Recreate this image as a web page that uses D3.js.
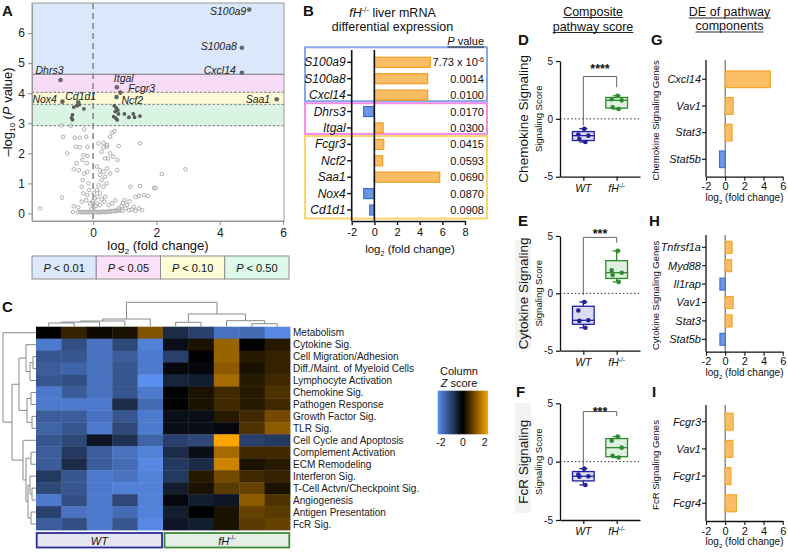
<!DOCTYPE html>
<html><head><meta charset="utf-8">
<script src="https://cdn.jsdelivr.net/npm/d3@7/dist/d3.min.js"></script>
<style>
html,body{margin:0;padding:0;background:#fff;}
svg text{font-family:"Liberation Sans",Arial,Helvetica,sans-serif;}
</style></head>
<body>
<svg id="fig" width="788" height="555" xmlns="http://www.w3.org/2000/svg"></svg>
<script>
// ======================= DATA =======================
// Panel A – volcano plot
const volcanoGenes  = ["S100a9","S100a8","Cxcl14","Dhrs3","Itgal","Fcgr3","Ncf2","Nox4","Cd1d1","Saa1"];
const volcanoGeneFC = [4.93,4.70,4.70,-1.03,0.75,0.86,0.74,-0.97,-0.47,5.80];
const volcanoGeneLP = [6.78,5.51,4.68,4.44,4.20,4.02,3.87,3.72,3.70,3.80];
const volcanoSigPoints = [[-0.61,3.54],[-0.51,3.58],[-0.44,3.62],[-0.29,3.48],[-0.65,3.28],[-0.68,3.18],[-0.65,3.12],
  [0.67,3.58],[0.73,3.51],[0.70,3.39],[0.78,3.44],[0.65,3.22],[0.72,3.17],[0.80,3.31],[0.99,3.31],[1.13,3.20],
  [1.27,3.31],[1.31,3.20],[1.48,3.24],[0.76,3.11]];
const volcanoNsPoints = [[-1.0,2.93],[-0.70,2.92],[-0.95,2.55],[-0.58,2.52],[-0.42,2.52],[-0.22,2.55],[-0.28,2.8],
  [-0.54,2.22],[-0.18,2.22],[0.6,2.69],[0.68,2.74],[0.54,2.55],[0.33,2.35],[0.81,2.24],[1.48,2.33],[0.43,2.22],
  [-0.42,2.2],[-0.31,1.94],[-0.18,1.92],[-0.34,1.78],[-0.52,1.67],[-0.2,1.67],[-0.82,2.0],[-0.61,1.47],[-0.45,1.44],
  [-0.18,1.39],[-0.28,1.33],[-0.33,1.11],[-0.15,1.0],[-0.36,0.89],[-0.12,0.78],[-0.31,0.67],[-0.18,0.61],[-0.36,0.39],
  [-0.22,0.44],[-0.1,0.33],[-0.61,0.24],[-0.63,0.05],[-0.98,0.53],[-1.67,0.17],
  [0.17,2.33],[0.33,2.2],[0.44,2.28],[0.27,2.05],[0.54,2.0],[0.38,1.83],[0.48,1.83],[0.64,1.89],[0.77,1.78],
  [0.12,1.56],[0.22,1.44],[0.33,1.39],[0.44,1.5],[0.54,1.33],[0.76,1.44],
  [0.22,1.28],[0.38,1.22],[0.27,1.11],[0.43,1.0],[0.17,0.94],[0.33,0.89],
  [0.12,0.78],[0.22,0.67],[0.14,0.56],[0.28,0.47],[0.38,0.56],[0.03,0.67],
  [0.12,0.33],[0.22,0.28],[0.35,0.39],[0.49,0.28],[0.6,0.33],[0.7,0.44],
  [-0.47,0.04],[-0.4,0.05],[-0.35,0.03],[-0.3,0.06],[-0.25,0.04],[-0.2,0.05],[-0.15,0.03],[-0.1,0.06],[-0.05,0.04],
  [0.0,0.08],[0.05,0.05],[0.1,0.04],[0.15,0.06],[0.2,0.03],[0.25,0.05],[0.3,0.07],[0.35,0.04],[0.4,0.06],[0.45,0.05],
  [0.5,0.08],[0.55,0.06],[0.6,0.09],[0.65,0.07],[0.7,0.1],[0.75,0.08],[0.8,0.12],[0.85,0.1],
  [0.81,0.17],[0.92,0.09],[1.02,0.17],[1.13,0.11],[1.23,0.13],[1.34,0.09],[1.45,0.17],[1.55,0.11],[1.07,0.28],[1.28,0.22],
  [1.18,0.89],[1.48,0.91],[1.34,0.55],[1.45,0.58],[1.61,0.61],[1.74,0.58],[1.93,0.85],[1.97,0.85],[2.17,1.31],[2.92,1.47],
  [-0.47,0.2],[0.02,0.2],[-0.02,0.35],[0.05,0.5],[-0.05,0.15],[0.08,0.25],[0.0,0.42],[0.95,0.35],[1.0,0.45],[1.15,0.4],[0.9,0.25]];
const pBandCuts   = [4.63,4.03,3.63,2.92];
const pBandLabels = ["0.01","0.05","0.10","0.50"];
const volcanoXTicks = [0,2,4,6];
const volcanoYTicks = [0,1,2,3,4,5,6];

// Panel B – differential expression
const deGenes   = ["S100a9","S100a8","Cxcl14","Dhrs3","Itgal","Fcgr3","Ncf2","Saa1","Nox4","Cd1d1"];
const deLog2FC  = [4.94,4.70,4.70,-0.94,0.77,0.83,0.73,5.77,-0.94,-0.41];
const dePValues = ["7.73 x 10^-6","0.0014","0.0100","0.0170","0.0300","0.0415","0.0593","0.0690","0.0870","0.0908"];
const deGroupSizes = [3,2,5];
const deXTicks = [-2,0,2,4,6,8];

// Panel C – heatmap of pathway z-scores
const pathways = ["Metabolism","Cytokine Sig.","Cell Migration/Adhesion","Diff./Maint. of Myeloid Cells",
  "Lymphocyte Activation","Chemokine Sig.","Pathogen Response","Growth Factor Sig.","TLR Sig.",
  "Cell Cycle and Apoptosis","Complement Activation","ECM Remodeling","Interferon Sig.",
  "T-Cell Actvn/Checkpoint Sig.","Angiogenesis","Antigen Presentation","FcR Sig."];
const heatGroups = ["WT","fH-/-"];
const zScores = [
  [ 0.0, 0.4, 0.1, 0.2, 1.0, -0.6,-0.9,-1.6,-1.5,-1.9],
  [-1.7,-1.1,-1.6,-1.0,-1.8, -0.2, 0.2, 1.2, 0.0, 0.3],
  [-1.2,-1.2,-1.6,-1.3,-1.7, -0.9, 0.0, 1.2, 0.3, 0.4],
  [-1.3,-1.4,-1.6,-1.2,-1.7, -0.1,-0.1, 1.1, 0.2, 0.4],
  [-1.2,-1.1,-1.6,-1.2,-2.0, -0.5,-0.4, 1.3, 0.3, 0.5],
  [-1.7,-1.3,-1.6,-1.2,-1.7,  0.0, 0.2, 0.5, 0.3, 0.6],
  [-1.7,-1.7,-1.7,-0.6,-1.5,  0.0, 0.2, 0.5, 0.3, 0.5],
  [-1.3,-1.3,-1.6,-1.2,-1.7, -0.2,-0.2, 0.3, 0.5, 0.9],
  [-1.4,-1.2,-1.7,-1.0,-1.7, -0.2,-0.2,-0.1, 0.6, 1.1],
  [-1.2,-1.0,-0.3,-0.7,-1.4, -0.9,-1.0, 2.1,-0.9,-0.8],
  [-1.3,-0.8,-1.3,-1.6,-1.8, -0.6,-0.2, 1.3, 0.5, 0.5],
  [-1.3,-0.6,-1.3,-1.5,-1.9, -0.8,-0.6, 1.6, 0.2, 0.3],
  [-0.8,-1.2,-1.7,-1.6,-1.8, -0.8, 0.3, 0.9, 0.5, 0.4],
  [-1.0,-1.2,-1.7,-1.8,-1.8, -0.4, 0.2, 0.7, 0.8, 0.2],
  [-1.7,-1.1,-1.7,-1.0,-1.8, -0.1,-0.4,-0.3, 1.1, 0.6],
  [-0.9,-1.6,-1.7,-1.5,-1.8, -0.4, 0.0, 0.2, 0.8, 0.7],
  [-1.3,-1.1,-1.7,-1.2,-1.9, -0.3,-0.4, 0.2, 0.7, 0.8]];
const zLegendTicks = [-2,0,2];
const rowTree = {h:33,c:[0,{h:24,c:[{h:17,c:[{h:10,c:[1,{h:6,c:[{h:3,c:[2,3]},4]}]},{h:9,c:[{h:5,c:[5,6]},{h:4,c:[7,8]}]}]},
  {h:13,c:[9,{h:10,c:[{h:5,c:[10,11]},{h:8,c:[{h:6,c:[12,{h:4,c:[13,14]}]},{h:5,c:[15,16]}]}]}]}]}]};
const colTree = {h:24.4,c:[{h:7.7,c:[{h:5.7,c:[{h:4.7,c:[{h:3.7,c:[0,1]},2]},3]},4]},
  {h:12.7,c:[{h:4.4,c:[5,6]},{h:6,c:[7,{h:3,c:[8,9]}]}]}]};

// Panels D–F – composite pathway scores
const scoreGroups = ["WT","fH-/-"];
const scoreTitles = ["Chemokine Signaling","Cytokine Signaling","FcR Signaling"];
const chemokineScoreWT = [-0.85,-1.35,-1.45,-1.75,-2.0];
const chemokineScoreFH = [2.0,1.7,1.6,1.0,0.85];
const cytokineScoreWT  = [-0.75,-1.5,-2.35,-2.4,-3.0];
const cytokineScoreFH  = [3.7,2.0,1.8,1.6,1.0];
const fcrScoreWT       = [-0.6,-1.1,-1.25,-1.3,-2.0];
const fcrScoreFH       = [2.15,1.8,1.2,0.5,0.35];
const scoreStars       = ["****","***","***"];
const scoreYTicks      = [-5,0,5];

// Panels G–I – DE of pathway components
const chemokineGenes = ["Cxcl14","Vav1","Stat3","Stat5b"];
const chemokineFC    = [4.7,0.83,0.72,-0.59];
const cytokineGenes  = ["Tnfrsf1a","Myd88","Il1rap","Vav1","Stat3","Stat5b"];
const cytokineFC     = [0.72,0.67,-0.55,0.83,0.72,-0.55];
const fcrGenes       = ["Fcgr3","Vav1","Fcgr1","Fcgr4"];
const fcrFC          = [0.83,0.80,0.60,1.17];
const componentXTicks = [-2,0,2,4,6];

// ======================= DRAWING =======================
const svg = d3.select("#fig");
const fmt = d => (d < 0 ? "-" + Math.abs(d) : String(d));

function txt(g, x, y, s, o = {}) {
  const t = g.append("text").attr("x", x).attr("y", y).text(s)
    .attr("font-size", o.size || 11).attr("text-anchor", o.anchor || "start").attr("fill", o.fill || "#111");
  if (o.italic) t.attr("font-style", "italic");
  if (o.bold) t.attr("font-weight", "bold");
  return t;
}
function fhText(g, x, y, size, anchor, extra) {
  const t = g.append("text").attr("x", x).attr("y", y).attr("font-size", size).attr("text-anchor", anchor).attr("fill", "#111");
  t.append("tspan").attr("font-style", "italic").text("fH");
  t.append("tspan").attr("font-size", size * 0.62).attr("dy", -size * 0.38).text("-/-");
  if (extra) t.append("tspan").attr("dy", size * 0.38).text(extra);
  return t;
}
function logLabel(g, x, y, size) {
  const t = g.append("text").attr("x", x).attr("y", y).attr("font-size", size).attr("text-anchor", "middle").attr("fill", "#111");
  t.append("tspan").text("log");
  t.append("tspan").attr("font-size", size * 0.62).attr("dy", size * 0.3).text("2");
  t.append("tspan").attr("dy", -size * 0.3).text(" (fold change)");
  return t;
}
function underline(t) {
  const b = t.node().getBBox();
  d3.select(t.node().parentNode).append("line").attr("x1", b.x).attr("x2", b.x + b.width)
    .attr("y1", +t.attr("y") + 2).attr("y2", +t.attr("y") + 2).attr("stroke", "#111").attr("stroke-width", 0.9);
}
function letter(x, y, s) { txt(svg, x, y, s, {size: 15, bold: true}); }

// ---------- Panel A ----------
{
  const g = svg.append("g");
  const x = d3.scaleLinear().domain([-1.93, 6.03]).range([32, 284]);
  const y = d3.scaleLinear().domain([-0.25, 7.0]).range([221, 3]);
  const bandCols = ["#dbe7fa", "#f8dbf6", "#fdfad5", "#d9f4e2"];
  pBandCuts.forEach((c, i) => {
    const top = i === 0 ? y.domain()[1] : pBandCuts[i - 1];
    g.append("rect").attr("x", x.range()[0]).attr("width", x.range()[1] - x.range()[0])
      .attr("y", y(top)).attr("height", y(c) - y(top)).attr("fill", bandCols[i]);
  });
  pBandCuts.forEach((c, i) => {
    g.append("line").attr("x1", x.range()[0]).attr("x2", x.range()[1]).attr("y1", y(c)).attr("y2", y(c))
      .attr("stroke", "#777").attr("stroke-width", 1).attr("stroke-dasharray", i === 0 ? null : "2.5,1.8");
  });
  g.append("line").attr("x1", x(0)).attr("x2", x(0)).attr("y1", y.range()[1]).attr("y2", y.range()[0])
    .attr("stroke", "#8a8a8a").attr("stroke-width", 1.6).attr("stroke-dasharray", "6,4");
  g.selectAll(".ns").data(volcanoNsPoints).enter().append("circle")
    .attr("cx", d => x(d[0])).attr("cy", d => y(d[1])).attr("r", 1.8)
    .attr("fill", "#fff").attr("fill-opacity", 0.4).attr("stroke", "#9a9a9a").attr("stroke-width", 0.8);
  g.selectAll(".sig").data(volcanoSigPoints).enter().append("circle")
    .attr("cx", d => x(d[0])).attr("cy", d => y(d[1])).attr("r", 1.9).attr("fill", "#595959");
  const lab = {S100a9:["end",-3,5],S100a8:["end",-5,2],Cxcl14:["end",-6,1.5],Dhrs3:["end",3,-6],Itgal:["start",-3,-5.3],
    Fcgr3:["start",8,-0.7],Ncf2:["start",5,6.8],Nox4:["end",-5.5,1.3],Cd1d1:["start",-13,-2.3],Saa1:["end",-6.5,4]};
  volcanoGenes.forEach((gname, i) => {
    const cx = x(volcanoGeneFC[i]), cy = y(volcanoGeneLP[i]);
    g.append("circle").attr("cx", cx).attr("cy", cy).attr("r", 2.3).attr("fill", "#666");
    const L = lab[gname];
    txt(g, cx + L[1], cy + L[2], gname, {size: 10.5, italic: true, anchor: L[0], fill: "#222"});
  });
  g.append("rect").attr("x", 32).attr("y", 3).attr("width", 252).attr("height", 218)
    .attr("fill", "none").attr("stroke", "#9a9a9a").attr("stroke-width", 1);
  const ya = g.append("g").attr("transform", "translate(32,0)")
    .call(d3.axisLeft(y).tickValues(volcanoYTicks).tickSize(4).tickSizeOuter(0).tickFormat(fmt));
  const xa = g.append("g").attr("transform", "translate(0,221)")
    .call(d3.axisBottom(x).tickValues(volcanoXTicks).tickSize(4).tickSizeOuter(0).tickFormat(fmt));
  [ya, xa].forEach(a => { a.select(".domain").attr("stroke", "#9a9a9a");
    a.selectAll(".tick line").attr("stroke", "#888");
    a.selectAll("text").attr("font-size", 12).attr("fill", "#222"); });
  logLabel(g, 158, 250, 13);
  const yl = g.append("text").attr("transform", "translate(12,112) rotate(-90)").attr("font-size", 13)
    .attr("text-anchor", "middle").attr("fill", "#111");
  yl.append("tspan").text("\u2013log");
  yl.append("tspan").attr("font-size", 8).attr("dy", 3).text("10");
  yl.append("tspan").attr("dy", -3).text(" (");
  yl.append("tspan").attr("font-style", "italic").text("P");
  yl.append("tspan").text(" value)");
  // legend row
  const lw = (289 - 32) / pBandLabels.length;
  const legCols = ["#dde9fb", "#fde1fb", "#fefdd8", "#ddf9ea"];
  pBandLabels.forEach((p, i) => {
    g.append("rect").attr("x", 32 + i * lw).attr("y", 256).attr("width", lw).attr("height", 23)
      .attr("fill", legCols[i]).attr("stroke", "#8c8c8c").attr("stroke-width", 1);
    const t = g.append("text").attr("x", 32 + i * lw + lw / 2).attr("y", 271.5).attr("font-size", 11)
      .attr("text-anchor", "middle").attr("fill", "#111");
    t.append("tspan").attr("font-style", "italic").text("P");
    t.append("tspan").text(" < " + p);
  });
  letter(2, 15.5, "A");
}

// ---------- Panel B ----------
{
  const g = svg.append("g");
  const x = d3.scaleLinear().domain([-2, 8]).range([351.7, 465]);
  const y = d3.scalePoint().domain(deGenes).range([62.3, 210]);
  const top = 50, bot = 221;
  const boxCols = ["#86a9e6", "#f48bef", "#fcd46c"];
  let start = 0;
  deGroupSizes.forEach((n, i) => {
    const y0 = i === 0 ? y(deGenes[start]) - 15 : y(deGenes[start]) - 8.3;
    const y1 = y(deGenes[start + n - 1]) + (i === deGroupSizes.length - 1 ? 8.5 : 6);
    g.append("rect").attr("x", 305).attr("y", y0).attr("width", 182).attr("height", y1 - y0)
      .attr("fill", "none").attr("stroke", boxCols[i]).attr("stroke-width", 2);
    start += n;
  });
  g.selectAll(".bar").data(deGenes).enter().append("rect")
    .attr("x", (d, i) => x(Math.min(0, deLog2FC[i]))).attr("width", (d, i) => Math.abs(x(deLog2FC[i]) - x(0)))
    .attr("y", d => y(d) - 5).attr("height", 10)
    .attr("fill", (d, i) => deLog2FC[i] >= 0 ? "#f9bd66" : "#6b96e4")
    .attr("stroke", (d, i) => deLog2FC[i] >= 0 ? "#f39c1e" : "#3a6bd5").attr("stroke-width", 1.2);
  [x(-2), x(0)].forEach(xx => g.append("line").attr("x1", xx).attr("x2", xx).attr("y1", top).attr("y2", bot)
    .attr("stroke", "#111").attr("stroke-width", 1.6));
  deGenes.forEach((d, i) => {
    g.append("line").attr("x1", x(-2) - 4.5).attr("x2", x(-2)).attr("y1", y(d)).attr("y2", y(d)).attr("stroke", "#111").attr("stroke-width", 1.4);
    txt(g, x(-2) - 6, y(d) + 4, d, {size: 12, italic: true, anchor: "end"});
    const pv = dePValues[i];
    if (pv.includes("^")) {
      const [base, ex] = pv.split("^");
      const t = g.append("text").attr("x", 484).attr("y", y(d) + 4).attr("font-size", 11).attr("text-anchor", "end").attr("fill", "#111");
      t.append("tspan").text(base);
      t.append("tspan").attr("font-size", 7).attr("dy", -4).text(ex);
    } else txt(g, 484, y(d) + 4, pv, {size: 11, anchor: "end"});
  });
  const xa = g.append("g").attr("transform", `translate(0,${bot})`)
    .call(d3.axisBottom(x).tickValues(deXTicks).tickSize(4).tickSizeOuter(0).tickFormat(fmt));
  xa.select(".domain").attr("stroke", "#111").attr("stroke-width", 1.6);
  xa.selectAll(".tick line").attr("stroke", "#111").attr("stroke-width", 1.4);
  xa.selectAll("text").attr("font-size", 11).attr("fill", "#111");
  logLabel(g, 410, 253, 11.5);
  const ph = g.append("text").attr("x", 484).attr("y", 45).attr("font-size", 11).attr("text-anchor", "end").attr("fill", "#111");
  ph.append("tspan").attr("font-style", "italic").text("P");
  ph.append("tspan").text(" value");
  underline(ph);
  fhText(g, 392.5, 16.5, 12.5, "middle", " liver mRNA");
  txt(g, 392.5, 30.5, "differential expression", {size: 12.5, anchor: "middle"});
  letter(303, 15.5, "B");
}

// ---------- Panel C ----------
{
  const g = svg.append("g");
  const cols = d3.range(zScores[0].length);
  const x = d3.scaleBand().domain(cols).range([36, 290]);
  const y = d3.scaleBand().domain(d3.range(pathways.length)).range([326.7, 530]);
  const col = d3.scaleLinear().domain([-2, 0, 2]).range(["#5b8ff0", "#000000", "#ffa500"]).clamp(true);
  zScores.forEach((row, r) => row.forEach((v, c) => {
    g.append("rect").attr("x", x(c)).attr("y", y(r)).attr("width", x.bandwidth() + 0.4).attr("height", y.bandwidth() + 0.4)
      .attr("fill", col(v));
  }));
  pathways.forEach((p, r) => txt(g, 293, y(r) + y.bandwidth() / 2 + 3.6, p, {size: 10, fill: "#1a1a1a"}));
  const dg = g.append("g").attr("stroke", "#8a8a8a").attr("stroke-width", 1).attr("fill", "none");
  function drawRow(n) {
    if (typeof n === "number") return {p: y(n) + y.bandwidth() / 2, q: 36};
    const ch = n.c.map(drawRow), q = 36 - n.h;
    dg.append("line").attr("x1", q).attr("x2", q).attr("y1", ch[0].p).attr("y2", ch[ch.length - 1].p);
    ch.forEach(c => dg.append("line").attr("x1", q).attr("x2", c.q).attr("y1", c.p).attr("y2", c.p));
    return {p: (ch[0].p + ch[ch.length - 1].p) / 2, q};
  }
  drawRow(rowTree);
  function drawCol(n) {
    if (typeof n === "number") return {p: x(n) + x.bandwidth() / 2, q: 326.7};
    const ch = n.c.map(drawCol), q = 326.7 - n.h;
    dg.append("line").attr("y1", q).attr("y2", q).attr("x1", ch[0].p).attr("x2", ch[ch.length - 1].p);
    ch.forEach(c => dg.append("line").attr("y1", q).attr("y2", c.q).attr("x1", c.p).attr("x2", c.p));
    return {p: (ch[0].p + ch[ch.length - 1].p) / 2, q};
  }
  drawCol(colTree);
  const half = cols.length / 2;
  const gb = [[x(0) + 0.7, x(half - 1) + x.bandwidth() - 1, "#2b2b9a", "#e5e5f2"],
              [x(half) + 1.5, x(cols.length - 1) + x.bandwidth() - 0.7, "#3a8a3a", "#e6efe6"]];
  gb.forEach((b, i) => {
    g.append("rect").attr("x", b[0]).attr("y", 533).attr("width", b[1] - b[0]).attr("height", 14.5)
      .attr("fill", b[3]).attr("stroke", b[2]).attr("stroke-width", 1.8);
    if (i === 0) txt(g, (b[0] + b[1]) / 2, 544.5, heatGroups[0], {size: 11, italic: true, anchor: "middle"});
    else fhText(g, (b[0] + b[1]) / 2, 544.5, 11, "middle");
  });
  const lx = d3.scaleLinear().domain([-2.3, 2.3]).range([437.7, 488]);
  const defs = svg.append("defs");
  const grad = defs.append("linearGradient").attr("id", "zgrad");
  [[0, col(-2.3)], [0.5, col(0)], [1, col(2.3)]].forEach(s => grad.append("stop").attr("offset", s[0]).attr("stop-color", s[1]));
  g.append("rect").attr("x", lx.range()[0]).attr("y", 390.7).attr("width", lx.range()[1] - lx.range()[0]).attr("height", 43.6)
    .attr("fill", "url(#zgrad)");
  zLegendTicks.forEach(v => txt(g, lx(v), 446, fmt(v), {size: 10.5, anchor: "middle"}));
  txt(g, 459, 374.5, "Column", {size: 11, anchor: "middle"});
  const zs = g.append("text").attr("x", 459).attr("y", 386.5).attr("font-size", 11).attr("text-anchor", "middle").attr("fill", "#111");
  zs.append("tspan").attr("font-style", "italic").text("Z");
  zs.append("tspan").text(" score");
  letter(2, 312, "C");
}

// ---------- Panels D–F ----------
function prismQ(s, p) {
  const pos = (s.length + 1) * p - 1, lo = Math.floor(pos), hi = Math.ceil(pos);
  return s[lo] + (s[hi] - s[lo]) * (pos - lo);
}
function drawScore(cfg) {
  const g = svg.append("g");
  const y = d3.scaleLinear().domain([-5, 5]).range(cfg.yr);
  const x = d3.scalePoint().domain(scoreGroups).range([560, 640]).padding(0.7);
  if (cfg.bg) g.append("rect").attr("x", 515).attr("y", cfg.bg[0]).attr("width", 16).attr("height", cfg.bg[1] - cfg.bg[0]).attr("fill", "#f3f3f3");
  g.append("line").attr("x1", 560).attr("x2", 640).attr("y1", y(0)).attr("y2", y(0))
    .attr("stroke", "#333").attr("stroke-width", 1).attr("stroke-dasharray", "1.5,2.2");
  const ya = g.append("g").attr("transform", "translate(560,0)")
    .call(d3.axisLeft(y).tickValues(scoreYTicks).tickSize(4).tickSizeOuter(0).tickFormat(fmt));
  ya.select(".domain").attr("stroke", "#111").attr("stroke-width", 1.3);
  ya.selectAll(".tick line").attr("stroke", "#111").attr("stroke-width", 1.2);
  ya.selectAll("text").attr("font-size", 10).attr("fill", "#111");
  const xa = g.append("g").attr("transform", `translate(0,${y(-5)})`).call(d3.axisBottom(x).tickSize(4).tickSizeOuter(0).tickFormat(""));
  xa.select(".domain").attr("stroke", "#111").attr("stroke-width", 1.3);
  xa.selectAll(".tick line").attr("stroke", "#111").attr("stroke-width", 1.2);
  txt(g, x("WT"), y(-5) + 15, "WT", {size: 10.5, italic: true, anchor: "middle"});
  fhText(g, x(scoreGroups[1]), y(-5) + 15, 10.5, "middle");
  const sets = [[cfg.wt, "#22229c", "#dcdcf3"], [cfg.fh, "#2e8b2e", "#e0f0e0"]];
  const jit = [1, -5, 5, -4, 2];
  sets.forEach((s, i) => {
    const cx = x(scoreGroups[i]), vals = s[0].slice().sort((a, b) => a - b);
    const q1 = prismQ(vals, 0.25), md = prismQ(vals, 0.5), q3 = prismQ(vals, 0.75);
    const mn = vals[0], mx = vals[vals.length - 1], bw = 21.7;
    g.append("line").attr("x1", cx).attr("x2", cx).attr("y1", y(mx)).attr("y2", y(q3)).attr("stroke", s[1]).attr("stroke-width", 1.3);
    g.append("line").attr("x1", cx).attr("x2", cx).attr("y1", y(q1)).attr("y2", y(mn)).attr("stroke", s[1]).attr("stroke-width", 1.3);
    [mn, mx].forEach(v => g.append("line").attr("x1", cx - 4).attr("x2", cx + 4).attr("y1", y(v)).attr("y2", y(v)).attr("stroke", s[1]).attr("stroke-width", 1.3));
    g.append("rect").attr("x", cx - bw / 2).attr("y", y(q3)).attr("width", bw).attr("height", y(q1) - y(q3))
      .attr("fill", s[2]).attr("stroke", s[1]).attr("stroke-width", 1.3);
    g.append("line").attr("x1", cx - bw / 2).attr("x2", cx + bw / 2).attr("y1", y(md)).attr("y2", y(md)).attr("stroke", s[1]).attr("stroke-width", 1.3);
    s[0].forEach((v, k) => g.append("circle").attr("cx", cx + jit[k]).attr("cy", y(v)).attr("r", 2.3).attr("fill", s[1]));
  });
  const b = cfg.br;
  g.append("path").attr("d", `M${x("WT")},${y(b[1])}V${y(b[0])}H${x(scoreGroups[1])}V${y(b[2])}`)
    .attr("fill", "none").attr("stroke", "#666").attr("stroke-width", 1);
  txt(g, (x("WT") + x(scoreGroups[1])) / 2, y(cfg.star) + 7.5, cfg.stars, {size: 12.5, anchor: "middle", bold: true});
  const cy = (cfg.yr[0] + cfg.yr[1]) / 2;
  g.append("text").attr("transform", `translate(528,${cy}) rotate(-90)`).attr("font-size", 13.5).attr("text-anchor", "middle")
    .attr("fill", "#111").text(cfg.title);
  g.append("text").attr("transform", `translate(541.5,${cy}) rotate(-90)`).attr("font-size", 9.5).attr("text-anchor", "middle")
    .attr("fill", "#111").text("Signaling Score");
  letter(cfg.lx, cfg.ly, cfg.letter);
}
drawScore({letter: "D", lx: 518, ly: 45, yr: [176.7, 61], wt: chemokineScoreWT, fh: chemokineScoreFH,
  br: [3.66, -0.58, 2.73], star: 4.61, stars: scoreStars[0], title: scoreTitles[0]});
drawScore({letter: "E", lx: 518, ly: 225.5, yr: [350.7, 236], wt: cytokineScoreWT, fh: cytokineScoreFH,
  br: [4.88, -0.15, 4.41], star: 5.52, stars: scoreStars[1], title: scoreTitles[1], bg: [240, 349]});
drawScore({letter: "F", lx: 516, ly: 397, yr: [520, 403.3], wt: fcrScoreWT, fh: fcrScoreFH,
  br: [4.29, -0.43, 3.91], star: 4.58, stars: scoreStars[2], title: scoreTitles[2], bg: [403, 513]});
{
  const t1 = txt(svg, 593, 15.5, "Composite", {size: 12.5, anchor: "middle"}); underline(t1);
  const t2 = txt(svg, 593, 30.5, "pathway score", {size: 12.5, anchor: "middle"}); underline(t2);
  const t3 = txt(svg, 729.5, 16, "DE of pathway", {size: 12.5, anchor: "middle"}); underline(t3);
  const t4 = txt(svg, 729.5, 30, "components", {size: 12.5, anchor: "middle"}); underline(t4);
}

// ---------- Panels G–I ----------
function drawDE(cfg) {
  const g = svg.append("g");
  const x = d3.scaleLinear().domain([-2, 6]).range([706, 782.7]);
  const y = d3.scalePoint().domain(cfg.genes).range(cfg.rows);
  g.append("line").attr("x1", x(0)).attr("x2", x(0)).attr("y1", cfg.top).attr("y2", cfg.bot).attr("stroke", "#555").attr("stroke-width", 1);
  g.selectAll(".b").data(cfg.genes).enter().append("rect")
    .attr("x", (d, i) => x(Math.min(0, cfg.fc[i]))).attr("width", (d, i) => Math.abs(x(cfg.fc[i]) - x(0)))
    .attr("y", d => y(d) - cfg.bh / 2).attr("height", cfg.bh)
    .attr("fill", (d, i) => cfg.fc[i] >= 0 ? "#f9bd66" : "#6b96e4")
    .attr("stroke", (d, i) => cfg.fc[i] >= 0 ? "#f5a020" : "#3f6fd6").attr("stroke-width", 1.1);
  g.append("line").attr("x1", x(-2)).attr("x2", x(-2)).attr("y1", cfg.top).attr("y2", cfg.bot).attr("stroke", "#111").attr("stroke-width", 1.3);
  cfg.genes.forEach(d => {
    g.append("line").attr("x1", x(-2) - 4).attr("x2", x(-2)).attr("y1", y(d)).attr("y2", y(d)).attr("stroke", "#111").attr("stroke-width", 1.1);
    txt(g, x(-2) - 5, y(d) + 3.8, d, {size: 11, italic: true, anchor: "end"});
  });
  const xa = g.append("g").attr("transform", `translate(0,${cfg.bot})`)
    .call(d3.axisBottom(x).tickValues(componentXTicks).tickSize(4).tickSizeOuter(0).tickFormat(fmt));
  xa.select(".domain").attr("stroke", "#111").attr("stroke-width", 1.3);
  xa.selectAll(".tick line").attr("stroke", "#111").attr("stroke-width", 1.1);
  xa.selectAll("text").attr("font-size", 11).attr("fill", "#111").attr("dy", "0.6em");
  logLabel(g, 744.5, cfg.bot + 24, 10);
  g.append("text").attr("transform", `translate(659,${(cfg.top + cfg.bot) / 2 + 2}) rotate(-90)`).attr("font-size", 9.5)
    .attr("text-anchor", "middle").attr("fill", "#111").text(cfg.title);
  letter(cfg.lx, cfg.ly, cfg.letter);
}
drawDE({letter: "G", lx: 651, ly: 45, genes: chemokineGenes, fc: chemokineFC, top: 60, bot: 176.7, rows: [79.3, 159.3], bh: 16.7,
  title: "Chemokine Signaling Genes"});
drawDE({letter: "H", lx: 649, ly: 225.5, genes: cytokineGenes, fc: cytokineFC, top: 235, bot: 351.7, rows: [247.3, 339.3], bh: 12,
  title: "Cytokine Signaling Genes"});
drawDE({letter: "I", lx: 652, ly: 397, genes: fcrGenes, fc: fcrFC, top: 405, bot: 521, rows: [421.7, 503.3], bh: 17,
  title: "FcR Signaling Genes"});
</script>
</body></html>
